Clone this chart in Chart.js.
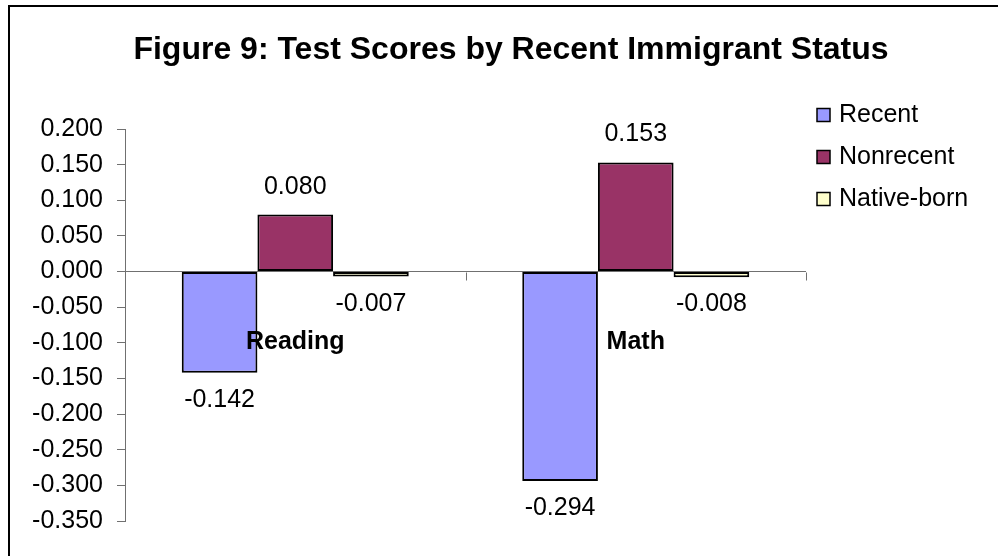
<!DOCTYPE html>
<html lang="en">

<head>
    <meta charset="UTF-8">
    <title>Figure 9: Test Scores by Recent Immigrant Status</title>

    <!-- Chart.js for drawing the bar chart -->
    <script src="https://cdn.jsdelivr.net/npm/chart.js"></script>

    <style>
        html, body {
            margin: 0;
            padding: 0;
            background: #ffffff;
            overflow: hidden;
        }

        .chart-wrap {
            position: relative;
            width: 998px;
            height: 556px;
        }

        /* Frame around the chart, only top and left edges show */
        .chart-frame {
            position: absolute;
            left: 8px;
            top: 5px;
            width: 1100px;
            height: 700px;
            border-top: 2px solid #000;
            border-left: 2px solid #000;
        }

        #barChart {
            position: absolute;
            left: 0;
            top: 0;
        }
    </style>
</head>

<body>

<div class="chart-wrap">
    <div class="chart-frame"></div>
    <canvas id="barChart" width="998" height="556"></canvas>
</div>

<script>
    // Chart data
    const categories = ['Reading', 'Math'];
    const seriesNames = ['Recent', 'Nonrecent', 'Native-born'];
    const recentScores = [-0.142, -0.294];
    const nonrecentScores = [0.080, 0.153];
    const nativeBornScores = [-0.007, -0.008];
    const seriesColors = ['#9999FF', '#993366', '#FFFFCC'];

    // Value axis range
    const yMin = -0.35;
    const yMax = 0.2;
    const yStep = 0.05;

    const FONT = '"Liberation Sans", Arial, sans-serif';
    const AXIS_GREY = '#707070';

    // Title, legend, category names and value labels drawn on the canvas
    const figurePlugin = {
        id: 'figureText',
        afterDatasetsDraw(chart) {
            const ctx = chart.ctx;
            const xScale = chart.scales.x;
            const yScale = chart.scales.y;
            const zeroY = yScale.getPixelForValue(0);

            ctx.save();

            // tick marks along the category axis (between groups)
            ctx.strokeStyle = AXIS_GREY;
            ctx.lineWidth = 1;
            const n = categories.length;
            for (let i = 0; i <= n; i++) {
                const x = Math.round(xScale.left + i * xScale.width / n) + 0.5;
                ctx.beginPath();
                ctx.moveTo(x, Math.round(zeroY) + 0.5);
                ctx.lineTo(x, Math.round(zeroY) + 8.5);
                ctx.stroke();
            }

            // category names sit below the zero line
            ctx.fillStyle = '#000';
            ctx.font = 'bold 25px ' + FONT;
            ctx.textAlign = 'center';
            ctx.textBaseline = 'alphabetic';
            categories.forEach((name, i) => {
                ctx.fillText(name, xScale.getPixelForValue(i), zeroY + 77);
            });

            // value labels at bar ends
            ctx.font = '25px ' + FONT;
            chart.data.datasets.forEach((ds, di) => {
                const meta = chart.getDatasetMeta(di);
                meta.data.forEach((bar, i) => {
                    const v = ds.data[i];
                    const y = v >= 0 ? bar.y - 21 : bar.y + 34;
                    ctx.fillText(v.toFixed(3), bar.x, y);
                });
            });

            // title
            ctx.font = 'bold 32px ' + FONT;
            ctx.fillText('Figure 9: Test Scores by Recent Immigrant Status', 511, 59);

            // legend
            ctx.font = '25px ' + FONT;
            ctx.textAlign = 'left';
            chart.data.datasets.forEach((ds, di) => {
                const base = 121.5 + di * 42;
                ctx.fillStyle = ds.backgroundColor;
                ctx.fillRect(817, base - 13, 13, 13);
                ctx.strokeStyle = '#000';
                ctx.lineWidth = 1.5;
                ctx.strokeRect(817, base - 13, 13, 13);
                ctx.fillStyle = '#000';
                ctx.fillText(ds.label, 839, base);
            });

            ctx.restore();
        }
    };

    function createScoreChart() {
        const ctx = document.getElementById('barChart').getContext('2d');
        const values = [recentScores, nonrecentScores, nativeBornScores];

        new Chart(ctx, {
            type: 'bar',
            data: {
                labels: categories,
                datasets: seriesNames.map((name, i) => ({
                    label: name,
                    data: values[i],
                    backgroundColor: seriesColors[i],
                    borderColor: '#000',
                    borderWidth: 2,
                    borderSkipped: false,
                    categoryPercentage: 2 / 3,
                    barPercentage: 1
                }))
            },
            options: {
                responsive: false,
                animation: false,
                devicePixelRatio: 1,
                layout: {
                    padding: { left: 0, top: 129, right: 192, bottom: 35 }
                },
                plugins: {
                    legend: { display: false },
                    title: { display: false },
                    tooltip: { enabled: false }
                },
                scales: {
                    x: {
                        display: false
                    },
                    y: {
                        min: yMin,
                        max: yMax,
                        afterFit(scale) {
                            scale.width = 125;
                        },
                        ticks: {
                            stepSize: yStep,
                            color: '#000',
                            padding: 14,
                            font: { family: FONT, size: 25 },
                            callback: value => value.toFixed(3)
                        },
                        grid: {
                            drawTicks: true,
                            tickLength: 8,
                            tickColor: AXIS_GREY,
                            color: c => Math.abs(c.tick.value) < 1e-9 ? AXIS_GREY : 'rgba(0,0,0,0)'
                        },
                        border: {
                            display: true,
                            color: AXIS_GREY,
                            width: 1
                        }
                    }
                }
            },
            plugins: [figurePlugin]
        });
    }

    createScoreChart();
</script>
</body>
</html>
